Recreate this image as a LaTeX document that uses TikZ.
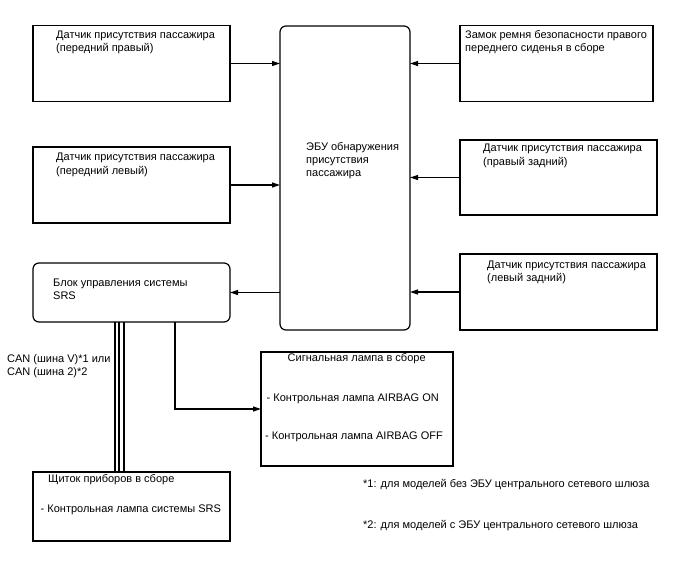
\documentclass[tikz,border=0pt]{standalone}
\usepackage{fontspec}
\setmainfont{Liberation Sans}
\usetikzlibrary{arrows.meta}
\begin{document}
\begin{tikzpicture}[x=1pt,y=-1pt,
  box/.style={draw, line width=1.2pt, inner sep=0pt, outer sep=0pt},
  rbox/.style={box, rounded corners=6pt},
  arr/.style={line width=1.2pt, -{Triangle[length=8pt,width=5pt]}},
  bus/.style={line width=2pt},
  txt/.style={anchor=base west, inner sep=0pt, font=\fontsize{11pt}{13pt}\selectfont}]
\useasboundingbox (0,0) rectangle (688,560);
% boxes
\node[box, minimum width=197pt, minimum height=76pt] (fr) at (131.5,63.5) {};
\node[box, minimum width=197pt, minimum height=76pt] (fl) at (131.5,185) {};
\node[rbox, minimum width=130pt, minimum height=304pt] (ecu) at (345,178) {};
\node[box, minimum width=193pt, minimum height=76pt] (belt) at (556.5,63.5) {};
\node[box, minimum width=197pt, minimum height=75pt] (rr) at (558.5,177.5) {};
\node[box, minimum width=197pt, minimum height=76pt] (lr) at (558.5,292) {};
\node[rbox, minimum width=197pt, minimum height=59pt] (srs) at (131.5,292.5) {};
\node[box, minimum width=197pt, minimum height=69pt] (cl) at (131.5,506.5) {};
\node[box, minimum width=192pt, minimum height=114pt] (sig) at (357,409) {};
% texts
\node[txt] (t1a) at (56,38) {Датчик присутствия пассажира};
\node[txt] (t1b) at (56,51.5) {(передний правый)};
\node[txt] (t2a) at (56,160.5) {Датчик присутствия пассажира};
\node[txt] (t2b) at (56,174) {(передний левый)};
\node[txt] (t3a) at (306,150) {ЭБУ обнаружения};
\node[txt] (t3b) at (306,163.3) {присутствия};
\node[txt] (t3c) at (306,176.6) {пассажира};
\node[txt] (t4a) at (465,38) {Замок ремня безопасности правого};
\node[txt] (t4b) at (465,51.5) {переднего сиденья в сборе};
\node[txt] (t5a) at (483,151.5) {Датчик присутствия пассажира};
\node[txt] (t5b) at (483,165) {(правый задний)};
\node[txt] (t6a) at (487,268) {Датчик присутствия пассажира};
\node[txt] (t6b) at (487,281.5) {(левый задний)};
\node[txt] (t7a) at (53,286) {Блок управления системы};
\node[txt] (t7b) at (53,299) {SRS};
\node[txt] (t8a) at (7,362) {CAN (шина V)*1 или};
\node[txt] (t8b) at (7,375) {CAN (шина 2)*2};
\node[txt] (t9a) at (48,482.5) {Щиток приборов в сборе};
\node[txt] (t9b) at (40.5,512.5) {- Контрольная лампа системы SRS};
\node[txt] (t10a) at (287.5,361.5) {Сигнальная лампа в сборе};
\node[txt] (t10b) at (266.5,401.5) {- Контрольная лампа AIRBAG ON};
\node[txt] (t10c) at (265,439) {- Контрольная лампа AIRBAG OFF};
\node[txt] (f1) at (363,487) {*1: для моделей без ЭБУ центрального сетевого шлюза};
\node[txt] (f2) at (363,528) {*2: для моделей с ЭБУ центрального сетевого шлюза};
% connectors
\draw[arr] (fr.east) -- (ecu.west |- fr.east);
\draw[arr] (fl.east) -- (ecu.west |- fl.east);
\draw[arr] (belt.west) -- (ecu.east |- belt.west);
\draw[arr] (rr.west) -- (ecu.east |- rr.west);
\draw[arr] (lr.west) -- (ecu.east |- lr.west);
\draw[arr] (ecu.west |- srs.east) -- (srs.east);
\draw[arr] ([xshift=43.5pt]srs.south) |- (sig.west);
\draw[bus] ([xshift=-17pt]srs.south) -- ([xshift=-17pt]cl.north);
\draw[bus] ([xshift=-12.5pt]srs.south) -- ([xshift=-12.5pt]cl.north);
\draw[bus] ([xshift=-8pt]srs.south) -- ([xshift=-8pt]cl.north);
\end{tikzpicture}
\end{document}
